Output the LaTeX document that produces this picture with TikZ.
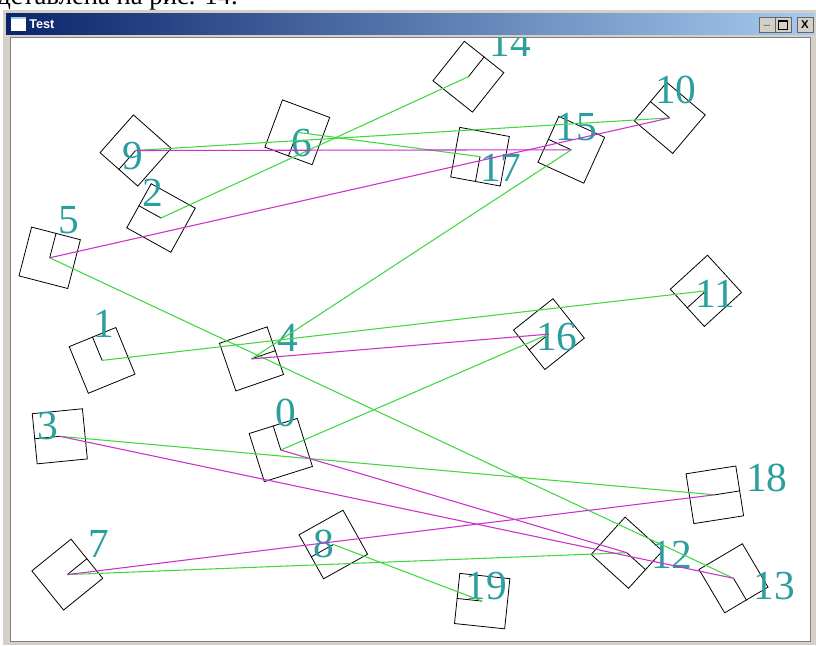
\documentclass[tikz,border=0pt]{standalone}
\usepackage{fontspec}
\setmainfont{Liberation Serif}
\newfontfamily\uifont{Liberation Sans}
\usetikzlibrary{calc}
\definecolor{lbl}{HTML}{2B9E9E}
\definecolor{lgreen}{HTML}{3FD93F}
\definecolor{lmag}{HTML}{CC2FCC}
\definecolor{winframe}{HTML}{D4D0C8}
\definecolor{capdark}{HTML}{0A246A}
\definecolor{caplight}{HTML}{A6CAF0}

\begin{document}
\begin{tikzpicture}[x=0.75pt,y=-0.75pt,
  box/.style={draw=black,line width=0.6pt,rectangle,minimum size=37.8pt,inner sep=0pt},
  num/.style={text=lbl,inner sep=0pt,font=\fontsize{31}{31}\selectfont},
  gline/.style={lgreen,line width=0.8pt},
  mline/.style={lmag,line width=0.8pt},
  winbtn/.style={fill=winframe,draw=black!60,line width=0.5pt,minimum width=12pt,minimum height=11pt,inner sep=0pt,font=\uifont\bfseries\fontsize{8.5}{8.5}\selectfont}]
  \useasboundingbox (0,0) rectangle (816,645);
  \clip (0,0) rectangle (816,645);
  % text of the page above the window
  \node[anchor=base west,inner sep=0pt,font=\fontsize{20}{20}\selectfont] (pagetext) at (-3,5) {дставлена на рис. 14.};
  % window
  \fill[winframe] (3,10) rectangle (816,645);
  \shade[left color=capdark,right color=caplight] (6,14) rectangle (814,35);
  \fill[white] (11,17) rectangle (26,31);
  \fill[caplight] (11,17) rectangle (26,19.5);
  \node[anchor=west,text=white,inner sep=0pt,font=\uifont\bfseries\fontsize{9.5}{9.5}\selectfont] (title) at (29,24.5) {Test};
  \node[winbtn] (bmin) at (767,25) {\_};
  \node[winbtn] (bmax) at (783,25) {};
  \draw[black,line width=0.6pt] ($(bmax.center)+(-4.5,-4.5)$) rectangle ($(bmax.center)+(4.5,4.5)$);
  \draw[black,line width=1.2pt] ($(bmax.center)+(-4.5,-4)$) -- ($(bmax.center)+(4.5,-4)$);
  \node[winbtn] (bclose) at (805,25) {X};
  \fill[white] (11,38) rectangle (810,641);
  \draw[black!50,line width=0.5pt] (10.5,37.5) rectangle (810.5,641.5);
  \begin{scope}
    \clip (11,38) rectangle (810,641);
    % squares with their heading marks
    \foreach \i/\x/\y/\a in {0/280.8/450/107.5, 1/102.1/360.4/112.3, 2/161/218/151,
        3/59.8/436.3/185.6, 4/251.5/358.9/19, 5/49.7/257.8/75.5, 6/297.3/132.3/249.6,
        7/67.3/574.6/39, 8/333.3/544.5/209.2, 9/135.6/150.5/228.5, 10/669.7/117.9/139.8,
        11/705.9/290.8/222.4, 12/626.8/552.7/317.8, 13/733.5/578.3/300.6,
        14/468.4/76.7/51.5, 15/571.3/149.8/155.5, 16/548.9/334.1/218.5,
        17/480/156.7/259.6, 18/714.8/494.8/8.9, 19/482.2/601.1/174} {
      \node[box,rotate=\a] (n\i) at (\x,\y) {};
      \draw[line width=0.6pt] (n\i.center) -- (n\i.east);
    }
    % numbers
    \foreach \i/\x/\y in {0/286.3/412.5, 1/104/323.7, 2/152.5/193.3, 3/47.5/425.8,
        4/288.3/337.5, 5/69.3/220.3, 6/301.7/143.5, 7/99/544.2, 8/324/543.8,
        9/132.5/156, 10/675.8/90, 11/715/294.3, 12/671.7/555, 13/774/585.8,
        14/510/43, 15/576/126.7, 16/556.7/336.7, 17/500.8/168.3, 18/766.7/477.5,
        19/486.3/585.8} {
      \node[num] (l\i) at (\x,\y) {\i};
    }
    % links
    \foreach \a/\b in {9/10, 2/14, 6/17, 15/4, 1/11, 0/16, 5/13, 3/18, 7/12, 8/19}
      \draw[gline] (n\a.center) -- (n\b.center);
    \foreach \a/\b in {9/15, 5/10, 4/16, 0/12, 3/13, 7/18}
      \draw[mline] (n\a.center) -- (n\b.center);
  \end{scope}
\end{tikzpicture}
\end{document}
